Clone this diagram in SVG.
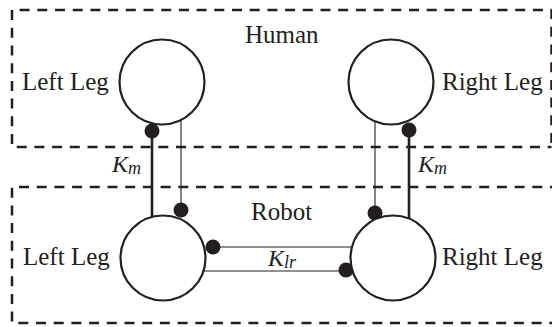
<svg xmlns="http://www.w3.org/2000/svg" width="552" height="327" viewBox="0 0 552 327">
  <style>
    .frame { fill: none; stroke: #231f20; stroke-width: 2.5; stroke-dasharray: 10 7.7; }
    .leg { fill: #ffffff; stroke: #231f20; stroke-width: 2.2; }
    .thick { stroke: #231f20; stroke-width: 2.6; fill: none; }
    .thin { stroke: #231f20; stroke-width: 1.1; fill: none; }
    .dot { fill: #231f20; }
    .label { font-family: "Liberation Serif", "Times New Roman", serif; font-size: 25px; fill: #231f20; }
    .k { font-family: "Liberation Serif", "Times New Roman", serif; font-style: italic; font-size: 24px; fill: #231f20; }
    .sub { font-size: 18px; }
  </style>

  <!-- group frames -->
  <g id="frames">
    <polyline class="frame" points="551.5,143 551.5,10 12,10 12,147 551.5,147"/>
    <polyline class="frame" points="560,187 12,187 12,323 560,323"/>
    <text class="label" x="245" y="43">Human</text>
    <text class="label" x="251" y="220">Robot</text>
  </g>

  <!-- connectors -->
  <g id="connectors">
    <!-- left side coupling -->
    <line class="thick" x1="152" y1="131" x2="152" y2="217"/>
    <line class="thin" x1="181" y1="120" x2="181" y2="210"/>
    <circle class="dot" cx="152" cy="131" r="7.5"/>
    <circle class="dot" cx="181" cy="210" r="7.5"/>
    <text class="k" x="112" y="172">K<tspan class="sub" dy="2">m</tspan></text>

    <!-- right side coupling -->
    <line class="thin" x1="375" y1="121" x2="375" y2="213"/>
    <line class="thick" x1="409" y1="130" x2="409" y2="219"/>
    <circle class="dot" cx="409" cy="130" r="7.5"/>
    <circle class="dot" cx="375" cy="213" r="7.5"/>
    <text class="k" x="418" y="172">K<tspan class="sub" dy="2">m</tspan></text>

    <!-- left-right coupling -->
    <line class="thin" x1="213" y1="247" x2="352" y2="247"/>
    <line class="thin" x1="204" y1="271" x2="347" y2="271"/>
    <circle class="dot" cx="213" cy="247" r="7.5"/>
    <circle class="dot" cx="346" cy="270" r="7.5"/>
    <text class="k" x="268" y="266">K<tspan class="sub" dy="2">lr</tspan></text>
  </g>

  <g id="human-left">
    <circle class="leg" cx="162" cy="82" r="42.5"/>
    <text class="label" x="22" y="90">Left Leg</text>
  </g>
  <g id="human-right">
    <circle class="leg" cx="391" cy="82" r="42.5"/>
    <text class="label" x="442" y="90">Right Leg</text>
  </g>
  <g id="robot-left">
    <circle class="leg" cx="163" cy="258" r="42.5"/>
    <text class="label" x="23" y="265">Left Leg</text>
  </g>
  <g id="robot-right">
    <circle class="leg" cx="393" cy="258" r="42.5"/>
    <text class="label" x="442" y="265">Right Leg</text>
  </g>
</svg>
